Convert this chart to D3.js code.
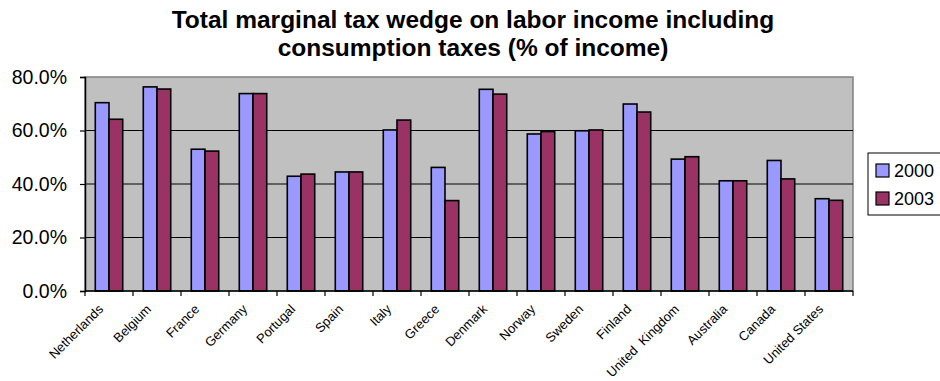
<!DOCTYPE html>
<html>
<head>
<meta charset="utf-8">
<script src="https://cdn.jsdelivr.net/npm/d3@7"></script>
<style>
  html, body { margin: 0; padding: 0; background: #fff; }
  svg { display: block; font-family: "Liberation Sans", Arial, sans-serif; }
</style>
</head>
<body>
<svg id="chart" width="940" height="381"></svg>
<script>
// Countries on the x axis
const countries = ["Netherlands", "Belgium", "France", "Germany", "Portugal", "Spain", "Italy",
  "Greece", "Denmark", "Norway", "Sweden", "Finland", "United  Kingdom", "Australia",
  "Canada", "United States"];

// Marginal tax wedge (% of income) per year
const wedge2000 = [70.4, 76.3, 53.0, 73.8, 42.9, 44.5, 60.2, 46.2, 75.4, 58.7, 59.9, 69.9, 49.3, 41.2, 48.8, 34.5];
const wedge2003 = [64.2, 75.5, 52.3, 73.8, 43.7, 44.5, 63.9, 33.8, 73.6, 59.6, 60.2, 66.9, 50.2, 41.2, 41.9, 33.9];

const seriesNames = ["2000", "2003"];
const seriesColors = ["#9999FF", "#993366"];
const yTicks = [0, 20, 40, 60, 80];
const titleLines = ["Total marginal tax wedge on labor income including", "consumption taxes (% of income)"];

const svg = d3.select("#chart");
const plot = { left: 85, right: 853, top: 77, bottom: 291 };

const x = d3.scaleBand().domain(countries).range([plot.left, plot.right]).paddingInner(0).paddingOuter(0);
// Two bars per country, gap of 150% of a bar width around each pair
const groupFrac = 2 / 3.5;
const x1 = d3.scaleBand().domain(seriesNames)
  .range([0, x.bandwidth() * groupFrac]);
const groupOffset = (x.bandwidth() - x.bandwidth() * groupFrac) / 2;
const y = d3.scaleLinear().domain([0, 80]).range([plot.bottom, plot.top]);

// Plot area background
svg.append("rect")
  .attr("x", plot.left).attr("y", plot.top)
  .attr("width", plot.right - plot.left).attr("height", plot.bottom - plot.top)
  .attr("fill", "#C0C0C0").attr("stroke", "#808080").attr("stroke-width", 1.5);

// Horizontal gridlines
svg.append("g").selectAll("line").data(yTicks.filter(d => d > 0 && d < 80)).join("line")
  .attr("x1", plot.left).attr("x2", plot.right)
  .attr("y1", d => y(d)).attr("y2", d => y(d))
  .attr("stroke", "#000").attr("stroke-width", 1);

// Bars
const rows = countries.map((c, i) => ({ country: c, values: [wedge2000[i], wedge2003[i]] }));
const groups = svg.append("g").selectAll("g").data(rows).join("g")
  .attr("transform", d => `translate(${x(d.country) + groupOffset},0)`);
groups.selectAll("rect").data(d => d.values.map((v, k) => ({ key: seriesNames[k], v, k }))).join("rect")
  .attr("x", d => x1(d.key))
  .attr("width", x1.bandwidth())
  .attr("y", d => y(d.v))
  .attr("height", d => y(0) - y(d.v))
  .attr("fill", d => seriesColors[d.k])
  .attr("stroke", "#000").attr("stroke-width", 1.6);

// Y axis
const yAxis = svg.append("g").attr("transform", `translate(${plot.left},0)`)
  .call(d3.axisLeft(y).tickValues(yTicks).tickFormat(d => d.toFixed(1) + "%").tickSize(5).tickPadding(13));
yAxis.select(".domain").attr("stroke", "#000").attr("stroke-width", 1.5);
yAxis.selectAll(".tick line").attr("stroke", "#000").attr("stroke-width", 1.2);
yAxis.selectAll("text").attr("font-size", 19.5).attr("fill", "#000")
  .attr("font-family", "Liberation Sans, Arial, sans-serif");

// X axis with ticks at category boundaries
const xAxisG = svg.append("g").attr("transform", `translate(0,${plot.bottom})`);
xAxisG.append("line").attr("x1", plot.left).attr("x2", plot.right)
  .attr("stroke", "#000").attr("stroke-width", 1.5);
const bounds = countries.map(c => x(c)).concat([plot.right]);
xAxisG.selectAll("line.tk").data(bounds).join("line").attr("class", "tk")
  .attr("x1", d => d).attr("x2", d => d).attr("y1", 0).attr("y2", 5)
  .attr("stroke", "#000").attr("stroke-width", 1.2);
xAxisG.selectAll("text").data(countries).join("text")
  .attr("transform", d => `translate(${x(d) + x.bandwidth() / 2 - 5},${19}) rotate(-45)`)
  .attr("text-anchor", "end")
  .attr("font-size", 13)
  .style("white-space", "pre")
  .text(d => d);

// Title
svg.append("g").selectAll("text").data(titleLines).join("text")
  .attr("x", 473).attr("y", (d, i) => 28 + i * 28)
  .attr("text-anchor", "middle")
  .attr("font-size", 24.5).attr("font-weight", "bold")
  .text(d => d);

// Legend
const legend = svg.append("g");
legend.append("rect").attr("x", 868).attr("y", 153).attr("width", 90).attr("height", 62)
  .attr("fill", "#fff").attr("stroke", "#000").attr("stroke-width", 1);
const items = legend.selectAll("g").data(seriesNames).join("g")
  .attr("transform", (d, i) => `translate(876,${170.5 + i * 28})`);
items.append("rect").attr("x", 0).attr("y", -6.5).attr("width", 13).attr("height", 13)
  .attr("fill", (d, i) => seriesColors[i]).attr("stroke", "#000").attr("stroke-width", 1.2);
items.append("text").attr("x", 18).attr("dy", "0.36em").attr("font-size", 18).text(d => d);
</script>
</body>
</html>
